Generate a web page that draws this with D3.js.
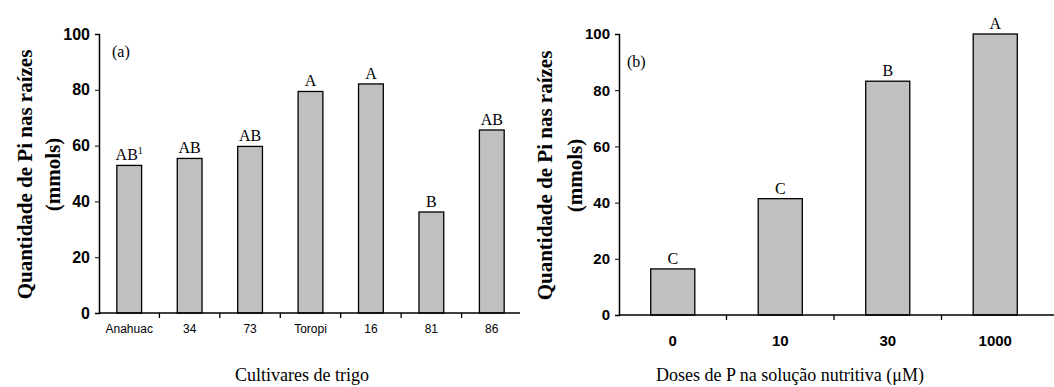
<!DOCTYPE html>
<html>
<head>
<meta charset="utf-8">
<script src="https://cdn.jsdelivr.net/npm/d3@7"></script>
<style>
  body { margin: 0; background: #fff; }
  svg { display: block; }
  .serif { font-family: "Liberation Serif", "DejaVu Serif", serif; }
</style>
</head>
<body>
<svg width="1054" height="387"></svg>
<script>
// panel (a) - cultivares
var cultivares = ["Anahuac", "34", "73", "Toropi", "16", "81", "86"];
var valoresA = [52.9, 55.4, 59.7, 79.4, 82.1, 36.2, 65.6];
var letrasA = ["AB", "AB", "AB", "A", "A", "B", "AB"];

// panel (b) - doses de P
var doses = ["0", "10", "30", "1000"];
var valoresB = [16.4, 41.4, 83.2, 100];
var letrasB = ["C", "C", "B", "A"];

var yTicks = [0, 20, 40, 60, 80, 100];

var svg = d3.select("svg");

function painel(opt) {
    var g = svg.append("g");
    var x = d3.scaleBand().domain(opt.cats).range([opt.x0, opt.x1]).padding(0);
    var y = d3.scaleLinear().domain([0, 100]).range([opt.yb, opt.yt]);
    var bw = x.bandwidth() * opt.barFrac;

    // bars
    g.selectAll("rect.bar")
        .data(opt.vals)
        .enter().append("rect")
        .attr("class", "bar")
        .attr("x", function(d, i) { return x(opt.cats[i]) + (x.bandwidth() - bw) / 2; })
        .attr("y", function(d) { return y(d); })
        .attr("width", bw)
        .attr("height", function(d) { return y(0) - y(d); })
        .attr("fill", "#c0c0c0")
        .attr("stroke", "#000")
        .attr("stroke-width", 1.3);

    // letters above bars
    var lab = g.selectAll("text.let")
        .data(opt.vals)
        .enter().append("text")
        .attr("class", "let serif")
        .attr("x", function(d, i) { return x(opt.cats[i]) + x.bandwidth() / 2; })
        .attr("y", function(d) { return y(d) - 5; })
        .attr("text-anchor", "middle")
        .attr("font-size", 16)
        .text(function(d, i) { return opt.letters[i]; });
    if (opt.sup) {
        lab.filter(function(d, i) { return i === 0; })
            .append("tspan").attr("dy", -6).attr("font-size", 10).text("1");
    }

    // y axis
    var ya = g.append("g")
        .attr("transform", "translate(" + opt.x0 + ",0)")
        .call(d3.axisLeft(y).tickValues(yTicks).tickSize(4).tickPadding(5));
    ya.select(".domain").attr("stroke", "#000").attr("stroke-width", 1.5);
    ya.selectAll("text")
        .attr("font-family", opt.yFont)
        .attr("font-weight", "bold")
        .attr("font-size", opt.yFontSize)
        .attr("fill", "#000");

    // x axis - ticks at band boundaries
    var xa = g.append("g")
        .attr("transform", "translate(0," + opt.yb + ")");
    xa.append("line")
        .attr("x1", opt.x0).attr("x2", opt.xEnd)
        .attr("stroke", "#000").attr("stroke-width", 1.5);
    xa.selectAll("line.tk")
        .data(opt.cats.slice(1))
        .enter().append("line")
        .attr("class", "tk")
        .attr("x1", function(d) { return x(d); })
        .attr("x2", function(d) { return x(d); })
        .attr("y1", 0).attr("y2", 5)
        .attr("stroke", "#000").attr("stroke-width", 1.3);
    xa.selectAll("text")
        .data(opt.cats)
        .enter().append("text")
        .attr("x", function(d) { return x(d) + x.bandwidth() / 2; })
        .attr("y", opt.xLabDy)
        .attr("text-anchor", "middle")
        .attr("font-family", opt.xFont)
        .attr("font-weight", opt.xWeight)
        .attr("font-size", opt.xFontSize)
        .text(function(d) { return d; });

    // panel tag
    g.append("text").attr("class", "serif")
        .attr("x", opt.tagX).attr("y", opt.tagY)
        .attr("font-size", 16)
        .text(opt.tag);

    // y title (two lines)
    var cy = (opt.yb + opt.yt) / 2 + 1;
    g.append("text").attr("class", "serif")
        .attr("transform", "translate(" + opt.tx1 + "," + cy + ") rotate(-90)")
        .attr("text-anchor", "middle")
        .attr("font-weight", "bold")
        .attr("font-size", 21)
        .text("Quantidade de Pi nas raízes");
    g.append("text").attr("class", "serif")
        .attr("transform", "translate(" + opt.tx2 + "," + cy + ") rotate(-90)")
        .attr("text-anchor", "middle")
        .attr("font-weight", "bold")
        .attr("font-size", 21)
        .text("(mmols)");

    // x title
    g.append("text").attr("class", "serif")
        .attr("x", opt.xtX).attr("y", opt.xtY)
        .attr("text-anchor", "middle")
        .attr("font-size", 18)
        .text(opt.xTitle);
}

painel({
    cats: cultivares, vals: valoresA, letters: letrasA, sup: true,
    x0: 99, x1: 522, xEnd: 520, yt: 34, yb: 313, barFrac: 0.41,
    yFont: "Liberation Sans, Arial, sans-serif", yFontSize: 16,
    xFont: "Liberation Sans, Arial, sans-serif", xWeight: "normal", xFontSize: 12, xLabDy: 20,
    tag: "(a)", tagX: 112, tagY: 57,
    tx1: 32, tx2: 60,
    xTitle: "Cultivares de trigo", xtX: 302, xtY: 381
});

painel({
    cats: doses, vals: valoresB, letters: letrasB, sup: false,
    x0: 619, x1: 1049, xEnd: 1054, yt: 34, yb: 315, barFrac: 0.41,
    yFont: "Liberation Sans Narrow, Liberation Sans, Arial, sans-serif", yFontSize: 15,
    xFont: "Liberation Sans Narrow, Liberation Sans, Arial, sans-serif", xWeight: "bold", xFontSize: 15, xLabDy: 31,
    tag: "(b)", tagX: 627, tagY: 67,
    tx1: 552, tx2: 582,
    xTitle: "Doses de P na solução nutritiva (μM)", xtX: 790, xtY: 381
});
</script>
</body>
</html>
